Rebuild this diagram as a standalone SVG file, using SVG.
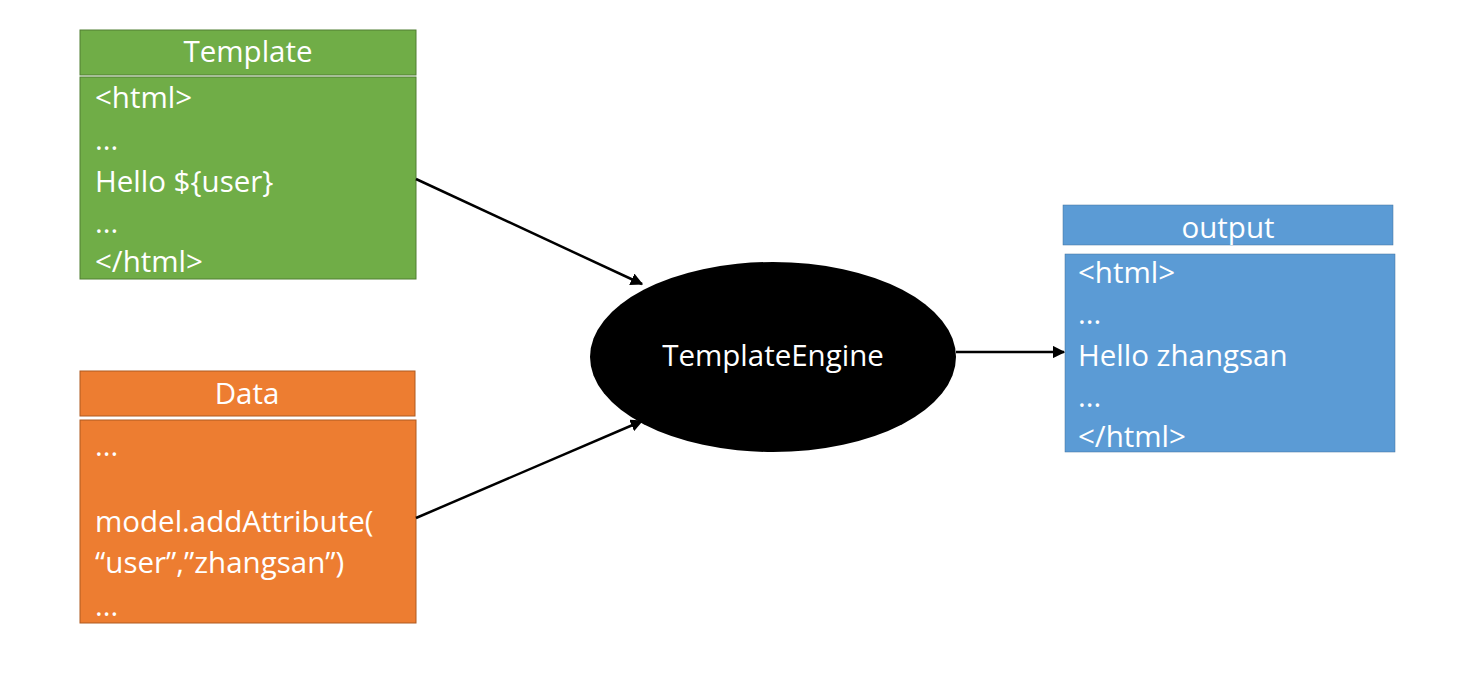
<svg xmlns="http://www.w3.org/2000/svg" width="1464" height="684" viewBox="0 0 1464 684">
<defs>
<style>
text{font-family:"Open Sans","Liberation Sans",sans-serif;font-size:29.5px;fill:#ffffff}
.h{text-anchor:middle}
.g{fill:#70AD47;stroke:#507E32;stroke-width:1}
.o{fill:#ED7D31;stroke:#AE5A21;stroke-width:1}
.b{fill:#5B9BD5;stroke:#41719C;stroke-width:0.5}
.c{stroke:#000;stroke-width:2.5;fill:none;marker-end:url(#ah)}
</style>
<marker id="ah" viewBox="0 0 10 10" refX="9" refY="5" markerWidth="5" markerHeight="5" orient="auto" markerUnits="strokeWidth">
<path d="M0,0 L10,5 L0,10 z" fill="#000"/>
</marker>
</defs>
<rect width="1464" height="684" fill="#fff"/>
<g id="template">
<rect class="g" x="80" y="30" width="336" height="45"/>
<rect class="g" x="80" y="77" width="336" height="202"/>
<text class="h" x="248" y="62">Template</text>
<text x="95" y="108">&lt;html&gt;</text>
<text x="95" y="150">...</text>
<text x="95" y="192">Hello ${user}</text>
<text x="95" y="233">...</text>
<text x="95" y="272">&lt;/html&gt;</text>
</g>
<g id="data">
<rect class="o" x="80" y="371" width="335" height="45"/>
<rect class="o" x="80" y="420" width="336" height="203"/>
<text class="h" x="247" y="404">Data</text>
<text x="95" y="456">...</text>
<text x="95" y="532">model.addAttribute(</text>
<text x="95" y="573">“user”,”zhangsan”)</text>
<text x="95" y="616">...</text>
</g>
<g id="output">
<rect class="b" x="1063" y="205" width="330" height="40"/>
<rect class="b" x="1065" y="254" width="330" height="198"/>
<text class="h" x="1228" y="238">output</text>
<text x="1078" y="283">&lt;html&gt;</text>
<text x="1078" y="324">...</text>
<text x="1078" y="366">Hello zhangsan</text>
<text x="1078" y="407">...</text>
<text x="1078" y="447">&lt;/html&gt;</text>
</g>
<g id="engine">
<ellipse cx="773" cy="357" rx="183" ry="95" fill="#000"/>
<text class="h" x="773" y="366">TemplateEngine</text>
</g>
<g id="connectors">
<line class="c" x1="416" y1="179" x2="642" y2="284"/>
<line class="c" x1="416" y1="518" x2="642" y2="421"/>
<line class="c" x1="956" y1="352" x2="1064" y2="352"/>
</g>
</svg>
